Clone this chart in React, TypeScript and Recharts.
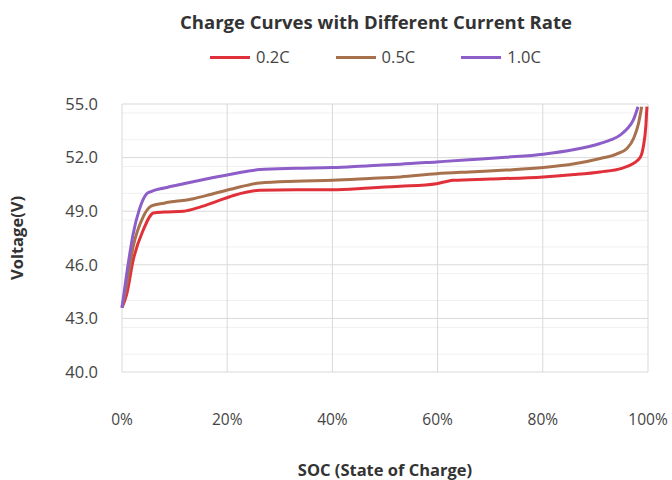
import React from "react";
import { CartesianGrid, Line, LineChart, XAxis, YAxis } from "recharts";

// SOC (%) and voltage (V)
const soc02 = [0, 0.9, 2.1, 4, 6, 8, 11.7, 14.8, 18, 21.2, 26.2, 33, 40, 47, 52.9, 59.8, 61.5, 63, 70, 80.1, 86, 90.9, 95, 97.2, 98.5, 99.1, 99.6, 99.8];
const volt02 = [43.6, 44.36, 46.23, 47.92, 48.9, 48.95, 49.0, 49.23, 49.55, 49.88, 50.17, 50.2, 50.2, 50.3, 50.39, 50.54, 50.65, 50.73, 50.8, 50.92, 51.05, 51.2, 51.4, 51.67, 52.0, 52.6, 53.8, 54.85];

const soc05 = [0, 0.9, 2.1, 4, 5.6, 8, 13.6, 17, 21.1, 26.2, 33, 40, 47, 52.9, 59.8, 66, 73, 80.1, 86, 90.9, 94, 96, 97.3, 98.2, 98.8];
const volt05 = [43.6, 44.9, 46.98, 48.67, 49.3, 49.45, 49.7, 49.95, 50.26, 50.58, 50.68, 50.73, 50.83, 50.92, 51.1, 51.2, 51.3, 51.44, 51.65, 51.95, 52.2, 52.51, 53.1, 53.92, 54.85];

const soc10 = [0, 0.9, 2.1, 3.3, 4.7, 5.5, 8, 11.7, 16, 21.2, 26.2, 33, 40, 47, 52.9, 59.8, 66, 73, 80.1, 86, 90.9, 93, 94.7, 96, 97.2, 98.1];
const volt10 = [43.6, 45.5, 47.7, 49.1, 49.98, 50.1, 50.3, 50.54, 50.8, 51.1, 51.33, 51.4, 51.44, 51.55, 51.63, 51.76, 51.88, 52.02, 52.19, 52.45, 52.79, 53.0, 53.26, 53.6, 54.1, 54.85];

const xTicks = [0, 20, 40, 60, 80, 100];
const yTicks = [40, 43, 46, 49, 52, 55];
const yMinor = [40.5, 41, 41.5, 42, 42.5, 43.5, 44, 44.5, 45, 45.5, 46.5, 47, 47.5, 48, 48.5, 49.5, 50, 50.5, 51, 51.5, 52.5, 53, 53.5, 54, 54.5];

const zip = (xs: number[], ys: number[]) => xs.map((x, i) => ({ soc: x, v: ys[i] }));

const series = [
  { name: "0.2C", color: "#e0313b", data: zip(soc02, volt02) },
  { name: "0.5C", color: "#a8714d", data: zip(soc05, volt05) },
  { name: "1.0C", color: "#8d5ec8", data: zip(soc10, volt10) },
];

const FONT = "'Open Sans', 'Liberation Sans', sans-serif";

export default function App() {
  return (
    <div style={{ position: "absolute", left: 0, top: 0, width: 672, height: 480, background: "#fff", fontFamily: FONT }}>
      <div
        style={{
          position: "absolute",
          top: 8,
          left: 376,
          transform: "translateX(-50%)",
          whiteSpace: "nowrap",
          fontSize: 18.5,
          fontWeight: 700,
          color: "#333",
          lineHeight: "28px",
        }}
      >
        Charge Curves with Different Current Rate
      </div>
      <div style={{ position: "absolute", top: 45, left: 210, display: "flex", gap: 46, fontSize: 16.5, color: "#444", lineHeight: "24px" }}>
        {series.map((s) => (
          <div key={s.name} style={{ display: "flex", alignItems: "center" }}>
            <div style={{ width: 40, height: 3, background: s.color, marginRight: 6 }} />
            {s.name}
          </div>
        ))}
      </div>
      <LineChart width={672} height={480} margin={{ top: 104, right: 24, bottom: 0, left: 0 }}>
        <CartesianGrid horizontalValues={yMinor} vertical={false} stroke="#f0f0f0" />
        <CartesianGrid stroke="#d9d9d9" />
        <XAxis
          type="number"
          dataKey="soc"
          domain={[0, 100]}
          ticks={xTicks}
          tickFormatter={(v: number) => `${v}%`}
          axisLine={false}
          tickLine={false}
          tickSize={0}
          tickMargin={42}
          height={108}
          tick={{ fontSize: 15.5, fill: "#444", fontFamily: FONT }}
          label={{ value: "SOC (State of Charge)", position: "insideBottom", offset: 4, style: { fontSize: 16.5, fontWeight: 700, fill: "#333", fontFamily: FONT } }}
        />
        <YAxis
          type="number"
          domain={[40, 55]}
          ticks={yTicks}
          allowDataOverflow
          tickFormatter={(v: number) => v.toFixed(1)}
          axisLine={false}
          tickLine={false}
          tickSize={0}
          tickMargin={24}
          width={122}
          tick={{ fontSize: 16.5, fill: "#444", fontFamily: FONT }}
          label={{ value: "Voltage(V)", angle: -90, position: "insideLeft", offset: 17, style: { textAnchor: "middle", fontSize: 16.5, fontWeight: 700, fill: "#333", fontFamily: FONT } }}
        />
        {series.map((s) => (
          <Line
            key={s.name}
            data={s.data}
            dataKey="v"
            name={s.name}
            type="monotone"
            stroke={s.color}
            strokeWidth={3}
            dot={false}
            isAnimationActive={false}
          />
        ))}
      </LineChart>
    </div>
  );
}
